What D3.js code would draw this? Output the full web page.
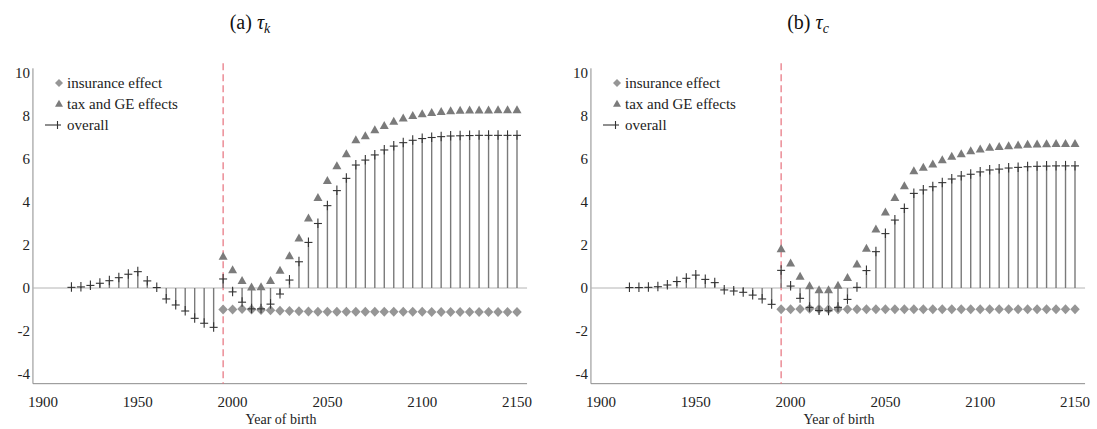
<!DOCTYPE html>
<html><head><meta charset="utf-8">
<script src="https://cdn.jsdelivr.net/npm/d3@7"></script>
<style>
html,body{margin:0;padding:0;background:#fff;}
svg{display:block;}
svg text{font-family:'Liberation Serif','DejaVu Serif',serif;}
</style></head>
<body><svg id="c" width="1097" height="429"></svg>
<script>
// ---- data ----
const yearsAll = [1915,1920,1925,1930,1935,1940,1945,1950,1955,1960,1965,1970,1975,1980,1985,1990,
  1995,2000,2005,2010,2015,2020,2025,2030,2035,2040,2045,2050,2055,2060,2065,2070,2075,2080,2085,2090,
  2095,2100,2105,2110,2115,2120,2125,2130,2135,2140,2145,2150];
const yearsPost = yearsAll.slice(16);
const reformYear = 1995;

const overallK = [0.03,0.05,0.12,0.22,0.34,0.48,0.64,0.76,0.33,0.02,-0.51,-0.79,-1.07,-1.41,-1.64,-1.83,
  0.42,-0.18,-0.66,-0.97,-0.97,-0.75,-0.28,0.37,1.22,2.12,3.0,3.83,4.53,5.1,5.72,5.95,6.19,6.42,6.6,6.76,
  6.87,6.95,7.0,7.04,7.07,7.08,7.09,7.1,7.1,7.1,7.1,7.1];
const taxK = [1.46,0.84,0.33,0.03,0.05,0.34,0.81,1.49,2.31,3.24,4.2,4.99,5.67,6.23,6.88,7.07,7.35,7.55,7.74,7.89,
  8.01,8.09,8.15,8.2,8.23,8.25,8.26,8.27,8.27,8.28,8.28,8.28];
const insK = [-1.0,-1.0,-0.98,-1.0,-1.02,-1.04,-1.06,-1.07,-1.08,-1.09,-1.1,-1.1,-1.1,-1.1,-1.1,-1.1,
  -1.1,-1.11,-1.11,-1.11,-1.11,-1.11,-1.12,-1.12,-1.12,-1.12,-1.12,-1.12,-1.12,-1.12,-1.12,-1.12];

const overallC = [0.02,0.02,0.03,0.06,0.14,0.3,0.45,0.6,0.4,0.25,-0.09,-0.14,-0.2,-0.33,-0.51,-0.76,
  0.82,0.09,-0.48,-0.9,-1.05,-1.06,-0.9,-0.53,0.03,0.81,1.69,2.53,3.16,3.7,4.4,4.56,4.71,4.9,5.07,5.21,
  5.29,5.4,5.49,5.53,5.58,5.61,5.64,5.66,5.67,5.68,5.68,5.68];
const taxC = [1.81,1.15,0.53,0.09,-0.09,-0.09,0.11,0.48,1.1,1.83,2.73,3.52,4.2,4.74,5.44,5.6,5.75,5.95,6.11,6.23,
  6.37,6.45,6.53,6.57,6.6,6.64,6.67,6.68,6.7,6.71,6.71,6.71];
const insC = [-0.99,-0.99,-0.98,-0.97,-0.98,-0.99,-0.99,-0.99,-0.99,-0.99,-0.99,-0.99,-0.99,-0.99,-0.99,-0.99,
  -0.99,-0.99,-0.99,-0.99,-0.99,-0.99,-0.99,-0.99,-0.99,-0.99,-0.99,-0.99,-0.99,-0.99,-0.99,-0.99];

const xTicks = [1900,1950,2000,2050,2100,2150];
const yTicks = [-4,-2,0,2,4,6,8,10];
const legendLabels = ["insurance effect","tax and GE effects","overall"];
const panels = [
  {label:"(a)", sub:"k", overall:overallK, tax:taxK, ins:insK, dx:0},
  {label:"(b)", sub:"c", overall:overallC, tax:taxC, ins:insC, dx:558}
];

// ---- drawing ----
const SERIF = "'Liberation Serif', 'DejaVu Serif', serif";
const svg = d3.select("#c");
const x = d3.scaleLinear().domain([1900,2150]).range([43,517]);
const y = d3.scaleLinear().domain([0,10]).range([288,73]);
const xMin = 1894.7, xMax = 2155.3, yMin = -4.45, yMax = 10.45;

const diamond = (cx,cy,w,h)=>`M${cx},${cy-h/2}L${cx+w/2},${cy}L${cx},${cy+h/2}L${cx-w/2},${cy}Z`;
const tri = (cx,cy,w,h)=>`M${cx},${cy-h*0.6}L${cx+w/2},${cy+h*0.4}L${cx-w/2},${cy+h*0.4}Z`;

panels.forEach(p=>{
  const g = svg.append("g").attr("transform",`translate(${p.dx},0)`);

  // title
  const t = g.append("text").attr("x",250).attr("y",29).attr("text-anchor","middle")
    .attr("font-family",SERIF).attr("font-size",20).attr("fill","#111");
  t.append("tspan").text(p.label+" ");
  t.append("tspan").attr("font-style","italic").text("τ");
  t.append("tspan").attr("font-style","italic").attr("font-size",14).attr("dy",4).text(p.sub);

  // axes lines
  g.append("line").attr("x1",x(xMin)).attr("x2",x(xMin)).attr("y1",y(yMax)+5).attr("y2",y(yMin))
    .attr("stroke","#8c8c8c").attr("stroke-width",1);
  g.append("line").attr("x1",x(xMin)).attr("x2",x(xMax)).attr("y1",y(yMin)).attr("y2",y(yMin))
    .attr("stroke","#8c8c8c").attr("stroke-width",1);
  // zero line
  g.append("line").attr("x1",x(xMin)).attr("x2",x(xMax)).attr("y1",y(0)).attr("y2",y(0))
    .attr("stroke","#b4b4b4").attr("stroke-width",1);

  // tick labels
  g.selectAll(".yt").data(yTicks).enter().append("text")
    .attr("x",30).attr("y",d=>y(d)).attr("dy","0.35em").attr("text-anchor","end")
    .attr("font-family",SERIF).attr("font-size",15).attr("fill","#222").text(d=>d);
  g.selectAll(".xt").data(xTicks).enter().append("text")
    .attr("x",d=>x(d)).attr("y",407).attr("text-anchor","middle")
    .attr("font-family",SERIF).attr("font-size",15).attr("fill","#222").text(d=>d);
  g.append("text").attr("x",281).attr("y",424).attr("text-anchor","middle")
    .attr("font-family",SERIF).attr("font-size",14).attr("fill","#222").text("Year of birth");

  // reform line
  g.append("line").attr("x1",x(reformYear)).attr("x2",x(reformYear)).attr("y1",y(yMax)).attr("y2",y(yMin))
    .attr("stroke","#e7707c").attr("stroke-width",1.2).attr("stroke-dasharray","7,4");

  // stems
  g.selectAll(".stem").data(yearsAll.map((yr,i)=>({yr,v:p.overall[i]}))).enter().append("line")
    .attr("x1",d=>x(d.yr)).attr("x2",d=>x(d.yr)).attr("y1",y(0)).attr("y2",d=>y(d.v))
    .attr("stroke","#7a7a7a").attr("stroke-width",1.4);

  // insurance diamonds
  g.selectAll(".dia").data(yearsPost.map((yr,i)=>({yr,v:p.ins[i]}))).enter().append("path")
    .attr("d",d=>diamond(x(d.yr),y(d.v),9.5,10)).attr("fill","#969696");

  // tax triangles
  g.selectAll(".tri").data(yearsPost.map((yr,i)=>({yr,v:p.tax[i]}))).enter().append("path")
    .attr("d",d=>tri(x(d.yr),y(d.v),9,8)).attr("fill","#7b7b7b");

  // overall crosses
  const cr = g.selectAll(".cr").data(yearsAll.map((yr,i)=>({yr,v:p.overall[i]}))).enter().append("g");
  cr.append("line").attr("x1",d=>x(d.yr)-4).attr("x2",d=>x(d.yr)+4).attr("y1",d=>y(d.v)).attr("y2",d=>y(d.v))
    .attr("stroke","#333").attr("stroke-width",1.1);
  cr.append("line").attr("x1",d=>x(d.yr)).attr("x2",d=>x(d.yr)).attr("y1",d=>y(d.v)-5).attr("y2",d=>y(d.v)+4.5)
    .attr("stroke","#333").attr("stroke-width",1.1);

  // legend
  const lg = g.append("g");
  lg.append("path").attr("d",diamond(59,83,8,8)).attr("fill","#969696");
  lg.append("path").attr("d",tri(59,104,8,7)).attr("fill","#7b7b7b");
  lg.append("line").attr("x1",45).attr("x2",61).attr("y1",125).attr("y2",125).attr("stroke","#333").attr("stroke-width",1.1);
  lg.append("line").attr("x1",57.5).attr("x2",57.5).attr("y1",121).attr("y2",129).attr("stroke","#333").attr("stroke-width",1.1);
  lg.selectAll(".lt").data(legendLabels).enter().append("text")
    .attr("x",67).attr("y",(d,i)=>83+i*21).attr("dy","0.35em")
    .attr("font-family",SERIF).attr("font-size",15).attr("fill","#222").text(d=>d);
});
</script></body></html>
